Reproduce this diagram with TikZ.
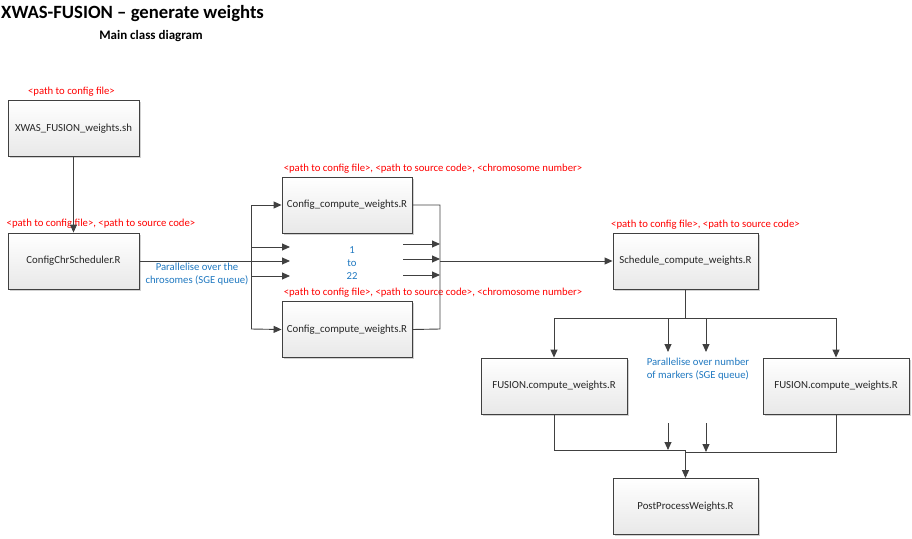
\documentclass[tikz,border=0pt]{standalone}
\usepackage{fontspec}
\setmainfont{Carlito}
\usetikzlibrary{arrows.meta,shadows}
\definecolor{ln}{HTML}{404040}
\definecolor{lblred}{HTML}{FF0000}
\definecolor{lblblue}{HTML}{1F78C0}
\begin{document}
\begin{tikzpicture}[x=1pt,y=-1pt,
  cls/.style={draw=ln,line width=0.9pt,top color=white,bottom color=gray!18,
    drop shadow={shadow xshift=1.5pt,shadow yshift=-1.5pt,fill=gray!45,opacity=0.8},
    minimum width=#1,minimum height=56pt,inner sep=0pt,font=\fontsize{10.8}{12}\selectfont,text=black!85},
  cls/.default=131pt,
  conn/.style={draw=ln,line width=0.9pt},
  arr/.style={conn,-{Triangle[length=8pt,width=7pt]}},
  red/.style={text=lblred,font=\fontsize{10.7}{12}\selectfont,inner sep=0pt},
  blue/.style={text=lblblue,font=\fontsize{10.7}{12.8}\selectfont,inner sep=0pt,align=center}]
\useasboundingbox (0,0) rectangle (912,538);

% titles
\node[anchor=west,inner sep=0pt,font=\fontsize{18.7}{20}\bfseries\selectfont] (title) at (1,14) {XWAS-FUSION -- generate weights};
\node[inner sep=0pt,font=\fontsize{13}{15}\bfseries\selectfont] (sub) at (151,36) {Main class diagram};

% boxes
\node[cls] (sh) at (73.5,128.5) {XWAS\_FUSION\_weights.sh};
\node[cls] (sched) at (73.5,261) {ConfigChrScheduler.R};
\node[cls=130pt] (cfga) at (347,205) {Config\_compute\_weights.R};
\node[cls=130pt] (cfgb) at (347,329.5) {Config\_compute\_weights.R};
\node[cls=145pt] (sc) at (685.5,261) {Schedule\_compute\_weights.R};
\node[cls=146pt] (fa) at (554,386) {FUSION.compute\_weights.R};
\node[cls=146pt] (fb) at (836,386) {FUSION.compute\_weights.R};
\node[cls=145pt] (pp) at (685.5,506.5) {PostProcessWeights.R};

% red labels
\node[red] (l1) at (71.5,92) {<path to config file>};
\node[red] (l2) at (101,224) {<path to config file>, <path to source code>};
\node[red] (l3) at (433,169) {<path to config file>, <path to source code>, <chromosome number>};
\node[red] (l4) at (433,293) {<path to config file>, <path to source code>, <chromosome number>};
\node[red] (l5) at (705.5,225) {<path to config file>, <path to source code>};

% blue labels
\node[blue] (b1) at (197,274.5) {Parallelise over the\\chrosomes (SGE queue)};
\node[blue] (b2) at (352,263) {1\\to\\22};
\node[blue,align=left] (b3) at (698,369.5) {Parallelise over number\\of markers (SGE queue)};

% coordinates
\coordinate (ja) at (251,205);
\coordinate (jm) at (251,261);
\coordinate (jb) at (251,329);
\coordinate (j1) at (251,247);
\coordinate (j3) at (251,276);
\coordinate (e1) at (290,247);
\coordinate (e2) at (290,261);
\coordinate (e3) at (290,276);
\coordinate (ra) at (440,205);
\coordinate (rb) at (440,329);
\coordinate (rm) at (440,261);
\coordinate (s1) at (403,244);
\coordinate (s2) at (403,259);
\coordinate (s3) at (403,275);
\coordinate (t1) at (440,244);
\coordinate (t2) at (440,259);
\coordinate (t3) at (440,275);
\coordinate (dm) at (685.5,318);
\coordinate (dl) at (554,318);
\coordinate (dr) at (836,318);
\coordinate (m1) at (668,318);
\coordinate (m2) at (706,318);
\coordinate (m1e) at (668,352);
\coordinate (m2e) at (706,352);
\coordinate (bl) at (554,450);
\coordinate (bc) at (685.5,450);
\coordinate (br) at (836,452);
\coordinate (bc2) at (685.5,452);
\coordinate (n1) at (668,423);
\coordinate (n2) at (706,423);
\coordinate (n1e) at (668,450);
\coordinate (n2e) at (706,452);

% connectors
\draw[arr] (sh) -- (sched);
\draw[conn] (sched.east) -- (jm);
\draw[conn] (ja) -- (jb);
\draw[arr] (ja) -- (cfga.west);
\draw[arr] (jb) -- (cfgb.west);
\draw[arr] (j1) -- (e1);
\draw[arr] (jm) -- (e2);
\draw[arr] (j3) -- (e3);
\draw[conn] (cfga.east) -- (ra) -- (rb) -- (cfgb.east);
\draw[arr] (s1) -- (t1);
\draw[arr] (s2) -- (t2);
\draw[arr] (s3) -- (t3);
\draw[arr] (rm) -- (sc.west);
\draw[conn] (sc.south) -- (dm);
\draw[conn] (dl) -- (dr);
\draw[arr] (dl) -- (fa.north);
\draw[arr] (dr) -- (fb.north);
\draw[arr] (m1) -- (m1e);
\draw[arr] (m2) -- (m2e);
\draw[conn] (fa.south) -- (bl) -- (bc);
\draw[conn] (fb.south) -- (br) -- (bc2);
\draw[arr] (n1) -- (n1e);
\draw[arr] (n2) -- (n2e);
\draw[arr] (bc) -- (pp.north);
\end{tikzpicture}
\end{document}
